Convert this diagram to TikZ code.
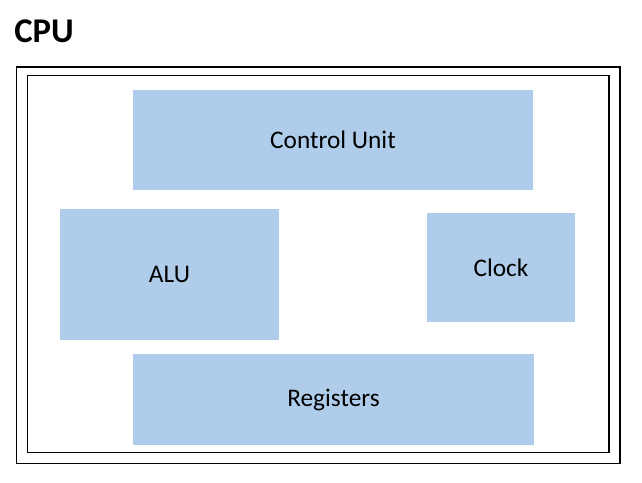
\documentclass[tikz,border=0pt]{standalone}
\usepackage{fontspec}
\setmainfont{Carlito}
\definecolor{unitblue}{RGB}{175,205,234}
\begin{document}
\begin{tikzpicture}[x=0.75pt,y=-0.75pt,
  unit/.style={fill=unitblue,inner sep=0pt,font=\fontsize{19}{23}\selectfont},
  frame/.style={line width=1pt}]
  \useasboundingbox (0,0) rectangle (642,482);

  \node[anchor=base west,inner sep=0pt,font=\bfseries\fontsize{26}{30}\selectfont] (cpu) at (14,42.5) {CPU};

  \draw[frame] (16.5,67) rectangle (620,463.5);
  \draw[frame] (27.5,75.5) rectangle (609,452.5);

    \node[unit,minimum width=300pt,minimum height=75pt] (control) at (333,140) {Control Unit};
    \node[unit,minimum width=164.25pt,minimum height=98.25pt] (alu) at (169.5,274) {ALU};
    \node[unit,minimum width=111pt,minimum height=81.75pt] (clock) at (501,267.5) {Clock};
    \node[unit,minimum width=300.75pt,minimum height=68.25pt] (registers) at (333.5,399.5) {Registers};
\end{tikzpicture}
\end{document}
